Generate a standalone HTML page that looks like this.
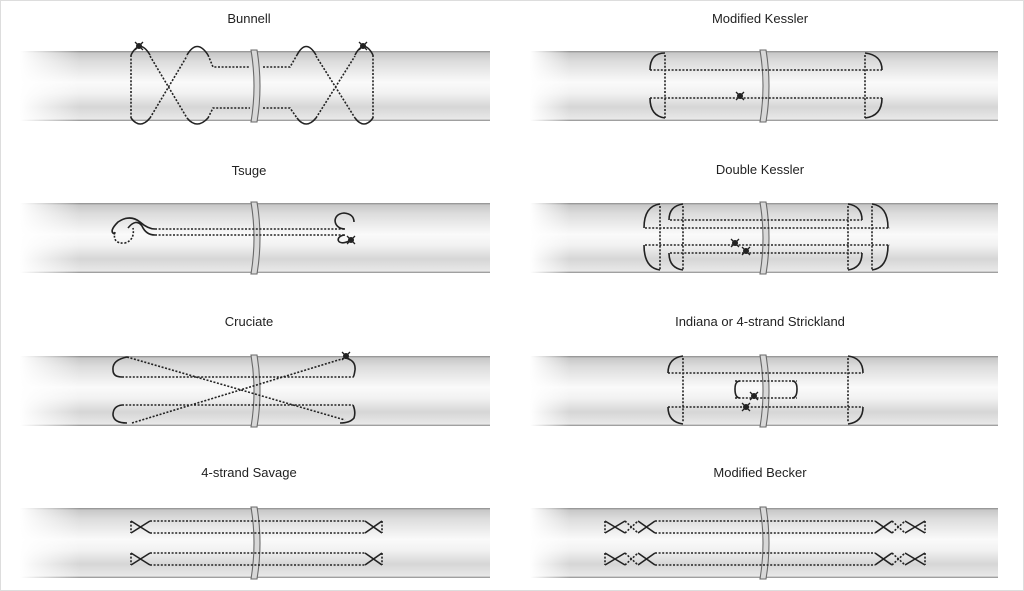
<!DOCTYPE html>
<html><head><meta charset="utf-8"><style>
body{margin:0;background:#fff;}
svg{display:block;font-family:"Liberation Sans",sans-serif;}
.d{fill:none;stroke:#222;stroke-width:1.6;stroke-dasharray:2 1.6;}
.s{fill:none;stroke:#222;stroke-width:1.6;}
.t{font-size:13px;fill:#222;text-anchor:middle;}
</style></head><body>
<svg width="1024" height="591" viewBox="0 0 1024 591">
<defs>
<linearGradient id="g" x1="0" y1="0" x2="0" y2="1">
<stop offset="0" stop-color="#8a8a8a"/><stop offset="0.03" stop-color="#c8c8c8"/>
<stop offset="0.15" stop-color="#dcdcdc"/><stop offset="0.45" stop-color="#fafafa"/>
<stop offset="0.6" stop-color="#f2f2f2"/><stop offset="0.8" stop-color="#d6d6d6"/>
<stop offset="0.97" stop-color="#e8e8e8"/><stop offset="1" stop-color="#8a8a8a"/>
</linearGradient>
<linearGradient id="f" x1="0" y1="0" x2="1" y2="0">
<stop offset="0" stop-color="#fff" stop-opacity="1"/><stop offset="1" stop-color="#fff" stop-opacity="0"/>
</linearGradient>
<g id="tubeL"><rect x="20" y="0" width="470" height="70" fill="url(#g)"/><rect x="20" y="0" width="60" height="70" fill="url(#f)"/>
<path d="M251,-1 Q257,35 251,71 L257,71 Q263,35 257,-1 Z" stroke="#6a6a6a" stroke-width="1.1" fill="#d8d8d8"/></g>
<g id="tubeR"><rect x="530" y="0" width="468" height="70" fill="url(#g)"/><rect x="530" y="0" width="40" height="70" fill="url(#f)"/>
<path d="M760,-1 Q766,35 760,71 L766,71 Q772,35 766,-1 Z" stroke="#6a6a6a" stroke-width="1.1" fill="#d8d8d8"/></g>
<g id="knot"><circle r="3" fill="#222"/><path d="M-4,-4 L4,4 M-4,4 L4,-4" stroke="#222" stroke-width="1.3"/></g>
</defs>
<rect x="0.5" y="0.5" width="1023" height="590" fill="none" stroke="#ddd"/>
<text class="t" x="249" y="23">Bunnell</text>
<text class="t" x="760" y="23">Modified Kessler</text>
<text class="t" x="249" y="175">Tsuge</text>
<text class="t" x="760" y="174">Double Kessler</text>
<text class="t" x="249" y="326">Cruciate</text>
<text class="t" x="760" y="326">Indiana or 4-strand Strickland</text>
<text class="t" x="249" y="477">4-strand Savage</text>
<text class="t" x="760" y="477">Modified Becker</text>

<use href="#tubeL" y="51"/><use href="#tubeR" y="51"/>
<use href="#tubeL" y="203"/><use href="#tubeR" y="203"/>
<use href="#tubeL" y="356"/><use href="#tubeR" y="356"/>
<use href="#tubeL" y="508"/><use href="#tubeR" y="508"/>

<!-- Bunnell -->
<path class="d" d="M131,55V118 M373,55V118 M150,56L187,118 M150,118L187,56 M208,55L213,67H250 M208,118L213,108H250 M263,67H290L297,55 M263,108H290L297,118 M316,56L355,118 M316,118L355,56"/>
<path class="s" d="M131,55Q140,38 150,55 M187,55Q197,38 208,55 M297,55Q306,38 316,55 M355,55Q364,38 373,55 M131,118Q140,130 150,118 M187,118Q197,130 208,118 M297,118Q306,130 316,118 M355,118Q364,130 373,118"/>
<use href="#knot" x="139" y="46"/><use href="#knot" x="363" y="46"/>

<!-- Tsuge -->
<path class="d" d="M155,229H345 M155,235H345 M115,232Q112,244 125,243Q135,240 133,228"/>
<path class="s" d="M155,229Q148,229 140,222Q130,214 118,222Q108,232 115,234 M155,235Q146,235 142,226Q136,218 128,228"/>
<path class="s" d="M345,229C333,229 331,214 344,213Q354,214 354,222 M345,235C334,236 337,247 349,241"/>
<use href="#knot" x="351" y="240"/>

<!-- Cruciate -->
<path class="d" d="M122,377H353 M122,405H353 M127,357L345,420 M132,423L345,358"/>
<path class="s" d="M127,357Q112,360 113,370Q113,377 122,377 M345,358Q356,360 355,370Q354,377 353,377 M122,405Q113,406 113,415Q114,423 127,423 M353,405Q356,412 354,418Q350,423 340,423"/>
<use href="#knot" x="346" y="356"/>

<!-- Savage -->
<path class="d" d="M150,521H365 M150,533H365 M150,553H365 M150,565H365 M131,521V533 M382,521V533 M131,553V565 M382,553V565"/>
<path class="s" d="M131,521L150,533 M131,533L150,521 M365,521L382,533 M365,533L382,521 M131,553L150,565 M131,565L150,553 M365,553L382,565 M365,565L382,553"/>

<!-- Modified Kessler -->
<path class="d" d="M665,55V118 M865,55V118 M650,70H882 M650,98H882"/>
<path class="s" d="M665,53Q650,53 650,70 M865,53Q882,55 882,70 M650,98Q650,116 665,118 M882,98Q882,116 865,118"/>
<use href="#knot" x="740" y="96"/>

<!-- Double Kessler -->
<path class="d" d="M660,206V270 M683,206V270 M848,206V270 M872,206V270 M645,228H890 M670,220H862 M645,245H890 M670,253H862"/>
<path class="s" d="M660,204Q644,206 644,228 M683,204Q669,206 669,220 M848,204Q862,206 862,220 M872,204Q888,206 888,228 M644,245Q644,268 660,270 M669,253Q669,268 683,270 M862,253Q862,268 848,270 M888,245Q888,268 872,270"/>
<use href="#knot" x="735" y="243"/><use href="#knot" x="746" y="251"/>

<!-- Indiana -->
<path class="d" d="M683,358V422 M848,358V422 M668,373H863 M668,407H863 M735,381H797 M735,398H797"/>
<path class="s" d="M683,356Q668,358 668,373 M848,356Q863,358 863,373 M668,407Q668,422 683,424 M863,407Q863,422 848,424 M740,381Q735,381 735,389Q735,398 740,398 M792,381Q797,381 797,389Q797,398 792,398"/>
<use href="#knot" x="754" y="396"/><use href="#knot" x="746" y="407"/>

<!-- Modified Becker -->
<path class="d" d="M655,521H875 M655,533H875 M655,553H875 M655,565H875 M605,521V533 M605,553V565 M925,521V533 M925,553V565 M625,521L638,533 M625,533L638,521 M625,553L638,565 M625,565L638,553 M892,521L905,533 M892,533L905,521 M892,553L905,565 M892,565L905,553"/>
<path class="s" d="M605,521L625,533 M605,533L625,521 M605,553L625,565 M605,565L625,553 M638,521L655,533 M638,533L655,521 M638,553L655,565 M638,565L655,553 M875,521L892,533 M875,533L892,521 M875,553L892,565 M875,565L892,553 M905,521L925,533 M905,533L925,521 M905,553L925,565 M905,565L925,553"/>
</svg>
</body></html>
